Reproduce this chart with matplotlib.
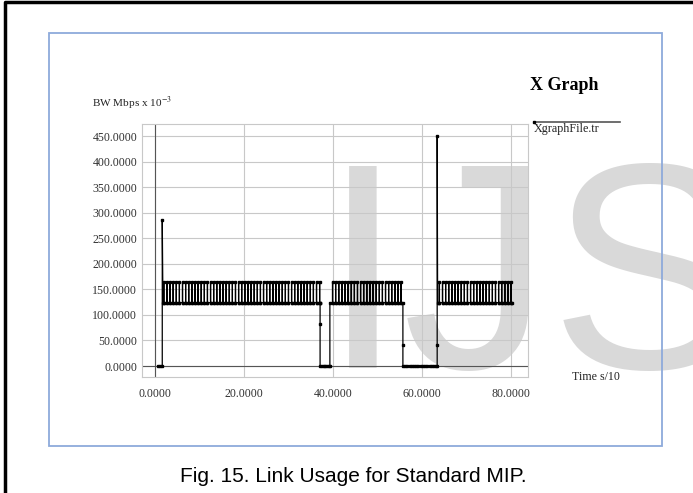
import matplotlib
matplotlib.use("Agg")
import matplotlib.pyplot as plt
from matplotlib.lines import Line2D
from matplotlib.patches import Rectangle

plt.rcParams["font.family"] = ["Liberation Serif", "DejaVu Serif"]
plt.rcParams["mathtext.fontset"] = "stix"

# Link usage trace (time in s/10, bandwidth in Mbps x 10^-3)
BASE = 124
PEAK = 165

lead_x = [0.75, 1.2, 1.65, 1.65, 1.8]
lead_y = [0, 0, 0, 285, 124]

seg1_stems = [2.0, 2.7, 3.4, 4.1, 4.8, 5.5, 6.2, 6.9, 7.6, 8.3, 9.0, 9.7,
              10.4, 11.1, 11.8, 12.5, 13.2, 13.9, 14.6, 15.3, 16.0, 16.7,
              17.4, 18.1, 18.8, 19.5, 20.2, 20.9, 21.6, 22.3, 23.0, 23.7,
              24.4, 25.1, 25.8, 26.5, 27.2, 27.9, 28.6, 29.3, 30.0, 30.7,
              31.4, 32.1, 32.8, 33.5, 34.2, 34.9, 35.6, 36.3, 37.0]

gap1_x = [37.1, 37.1, 37.1, 37.5, 37.9, 38.3, 38.7, 39.1, 39.3, 39.3]
gap1_y = [124, 82, 0, 0, 0, 0, 0, 0, 0, 124]

seg2_stems = [39.9, 40.6, 41.3, 42.0, 42.7, 43.4, 44.1, 44.8, 45.5, 46.2,
              46.9, 47.6, 48.3, 49.0, 49.7, 50.4, 51.1, 51.8, 52.5, 53.2,
              53.9, 54.6, 55.3]

gap2_x = [55.7, 55.7, 55.7, 56.2, 56.7, 57.2, 57.7, 58.2, 58.7, 59.2, 59.7,
          60.2, 60.7, 61.2, 61.7, 62.2, 62.7, 63.2, 63.4, 63.4, 63.4, 63.5]
gap2_y = [124, 41, 0, 0, 0, 0, 0, 0, 0, 0, 0,
          0, 0, 0, 0, 0, 0, 0, 0, 41, 450, 124]

seg3_stems = [63.9, 64.6, 65.3, 66.0, 66.7, 67.4, 68.1, 68.8, 69.5, 70.2,
              70.9, 71.6, 72.3, 73.0, 73.7, 74.4, 75.1, 75.8, 76.5, 77.2,
              77.9, 78.6, 79.3, 80.0]

tail_x = [80.2]
tail_y = [124]

x_ticks = [0, 20, 40, 60, 80]
y_ticks = [0, 50, 100, 150, 200, 250, 300, 350, 400, 450]


def comb(times):
    xs, ys = [], []
    for t in times:
        xs += [t, t, t]
        ys += [BASE, PEAK, BASE]
    return xs, ys


# Assemble the trace in time order
trace_x, trace_y = list(lead_x), list(lead_y)
for part in [comb(seg1_stems), (gap1_x, gap1_y), comb(seg2_stems),
             (gap2_x, gap2_y), comb(seg3_stems), (tail_x, tail_y)]:
    trace_x += list(part[0])
    trace_y += list(part[1])

W, H = 693, 493


def fx(x):
    return x / W


def fy(y):
    return 1 - y / H


fig = plt.figure(figsize=(W / 100, H / 100), dpi=100)

# Page elements: border, watermark, blue frame
fig.add_artist(Line2D([fx(5), fx(5), fx(693)], [fy(493), fy(2), fy(2)],
                      transform=fig.transFigure, color="black", lw=2.5,
                      zorder=3))
fig.text(fx(322), fy(368), "IJS", fontsize=212, family="Liberation Sans",
         color="#d9d9d9", ha="left", va="baseline", zorder=0.5)
fig.add_artist(Rectangle((fx(49), fy(446)), fx(662) - fx(49),
                         fy(33) - fy(446), transform=fig.transFigure,
                         fill=False, edgecolor="#8eaadb", lw=1.3, zorder=2))

# Plot area
ax = fig.add_axes([fx(142), fy(377), (528 - 142) / W, (377 - 124) / H])
ax.set_zorder(1)
ax.set_facecolor("none")
ax.plot(trace_x, trace_y, color="black", lw=0.9, marker="s", ms=1.8,
        mec="black", mfc="black")
ax.set_xlim(-2.9, 83.8)
ax.set_ylim(-21.5, 473.5)
ax.set_xticks(x_ticks)
ax.set_yticks(y_ticks)
ax.set_xticklabels([f"{v:.4f}" for v in x_ticks])
ax.set_yticklabels([f"{v:.4f}" for v in y_ticks])
ax.grid(color="#c8c8c8", lw=0.8)
ax.set_axisbelow(True)
ax.axhline(0, color="#555555", lw=0.8, zorder=1)
ax.axvline(0, color="#555555", lw=0.8, zorder=1)
ax.tick_params(length=0, labelsize=8.6, labelcolor="#333333")
ax.tick_params(axis="x", pad=8)
ax.tick_params(axis="y", pad=3.5)
for s in ax.spines.values():
    s.set_color("#c8c8c8")
    s.set_linewidth(0.8)

# Titles and labels
fig.text(fx(564), fy(85), "X Graph", fontsize=13, fontweight="bold",
         ha="center", va="center", zorder=3)
fig.text(fx(92), fy(103), "BW Mbps x 10$^{-3}$", fontsize=8.1,
         ha="left", va="center", color="#222222", zorder=3)
fig.text(fx(572), fy(377), "Time s/10", fontsize=8.6, ha="left",
         va="center", color="#222222", zorder=3)

# Legend
fig.add_artist(Line2D([fx(534), fx(620)], [fy(122), fy(122)],
                      transform=fig.transFigure, color="#555555", lw=1.2,
                      zorder=3))
fig.add_artist(Line2D([fx(534)], [fy(122)], transform=fig.transFigure,
                      marker="s", ms=2, color="black", zorder=3))
fig.text(fx(534), fy(129), "XgraphFile.tr", fontsize=8.7, ha="left",
         va="center", color="#222222", zorder=3)

# Caption
fig.text(fx(353), fy(476), "Fig. 15. Link Usage for Standard MIP.",
         fontsize=15, family="Liberation Sans", ha="center", va="center",
         zorder=3)

fig.savefig("out.png", dpi=100)
